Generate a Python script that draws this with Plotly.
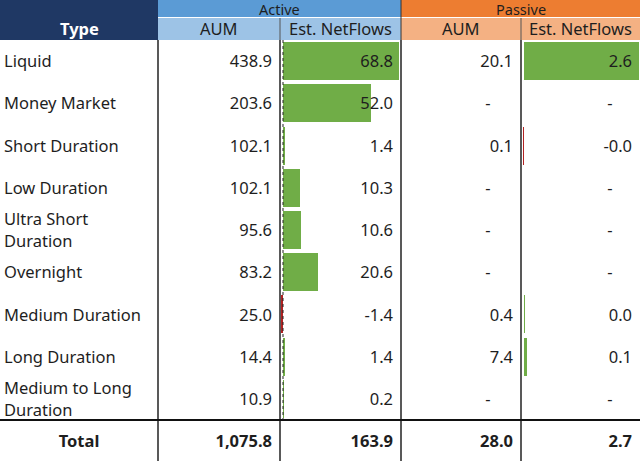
import plotly.graph_objects as go

# ---------------- data ----------------
types = ["Liquid", "Money Market", "Short Duration", "Low Duration",
         "Ultra Short<br>Duration", "Overnight", "Medium Duration",
         "Long Duration", "Medium to Long<br>Duration"]
active_aum = [438.9, 203.6, 102.1, 102.1, 95.6, 83.2, 25.0, 14.4, 10.9]
active_nf = [68.8, 52.0, 1.4, 10.3, 10.6, 20.6, -1.4, 1.4, 0.2]
passive_aum = [20.1, None, 0.1, None, None, None, 0.4, 7.4, None]
passive_nf = [2.6, None, -0.02, None, None, None, 0.02, 0.07, None]
group_labels = ["Active", "Passive"]
sub_labels = ["AUM", "Est. NetFlows", "AUM", "Est. NetFlows"]

# ---------------- layout constants ----------------
W, H = 640, 461
HEADER_H = 40
ROW_H = 380 / 9
COL_EDGES = [0, 158, 280, 401, 521, 640]
FONT = "Noto Sans"
TXT = "#1e1e1e"
NAVY = "#1F3864"
BLUE, LBLUE = "#5B9BD5", "#9DC3E6"
ORANGE, LORANGE = "#ED7D31", "#F4B183"
GREEN, RED = "#70AD47", "#B22222"
FS = 16.5
PAD = 8
TEXT_DY = 2 / ROW_H  # small downward nudge of cell text within its row

n = len(types)
rows = list(range(n))
y_top = -HEADER_H / ROW_H - 0.5
y_bot = (H - HEADER_H) / ROW_H - 0.5


def fmt(v):
    return f"{v:,.1f}"


def paper_y(px):
    return 1 - px / H


# data-bar axes: active zero at 283px, 68.8 reaches 399px; passive zero at 524px, 2.6 reaches 639px
a_zero, a_max_px = 283, 399
a_scale = max(active_nf) / (a_max_px - a_zero)
a_range = [(COL_EDGES[2] - a_zero) * a_scale, (COL_EDGES[3] - a_zero) * a_scale]
p_zero, p_max_px = 524, 639
p_vals = [v for v in passive_nf if v is not None]
p_scale = max(p_vals) / (p_max_px - p_zero)
p_range = [(COL_EDGES[4] - p_zero) * p_scale, (COL_EDGES[5] - p_zero) * p_scale]

fig = go.Figure()

# data bars
def bars(vals, axis):
    ys = [i for i, v in enumerate(vals) if v is not None]
    xs = [v for v in vals if v is not None]
    colors = [GREEN if v >= 0 else RED for v in xs]
    return go.Bar(x=xs, y=ys, orientation="h", xaxis=axis, yaxis="y",
                  marker=dict(color=colors, line=dict(width=0)), width=0.9,
                  hoverinfo="skip", showlegend=False)

fig.add_trace(bars(active_nf, "x2"))
fig.add_trace(bars(passive_nf, "x3"))

# text: type labels
fig.add_trace(go.Scatter(
    x=[COL_EDGES[0] + 4] * n, y=[r + TEXT_DY for r in rows], mode="text", text=types,
    textposition="middle right", textfont=dict(family=FONT, size=FS, color=TXT),
    hoverinfo="skip", showlegend=False, cliponaxis=False))

cols = [active_aum, active_nf, passive_aum, passive_nf]
# each column: (axis name, x of right text edge, x of dash)
col_axes = [
    ("x", COL_EDGES[2] - PAD, COL_EDGES[2] - 33),
    ("x2", a_range[1] - PAD * a_scale, a_range[1] - 33 * a_scale),
    ("x", COL_EDGES[4] - PAD, COL_EDGES[4] - 33),
    ("x3", p_range[1] - PAD * p_scale, p_range[1] - 30 * p_scale),
]
for vals, (ax, xr, xd) in zip(cols, col_axes):
    ys = [i + TEXT_DY for i, v in enumerate(vals) if v is not None]
    ts = [fmt(v) for v in vals if v is not None]
    fig.add_trace(go.Scatter(
        x=[xr] * len(ys), y=ys, mode="text", text=ts, xaxis=ax, yaxis="y",
        textposition="middle left", textfont=dict(family=FONT, size=FS, color=TXT),
        hoverinfo="skip", showlegend=False, cliponaxis=False))
    yd = [i + TEXT_DY for i, v in enumerate(vals) if v is None]
    if yd:
        fig.add_trace(go.Scatter(
            x=[xd] * len(yd), y=yd, mode="text", text=["-"] * len(yd), xaxis=ax, yaxis="y",
            textposition="middle center", textfont=dict(family=FONT, size=FS, color=TXT),
            hoverinfo="skip", showlegend=False, cliponaxis=False))
    tot = sum(v for v in vals if v is not None)
    fig.add_trace(go.Scatter(
        x=[xr], y=[n + TEXT_DY], mode="text", text=[f"<b>{fmt(tot)}</b>"], xaxis=ax, yaxis="y",
        textposition="middle left", textfont=dict(family=FONT, size=FS, color=TXT),
        hoverinfo="skip", showlegend=False, cliponaxis=False))

fig.add_trace(go.Scatter(
    x=[(COL_EDGES[0] + COL_EDGES[1]) / 2], y=[n + TEXT_DY], mode="text", text=["<b>Total</b>"],
    textposition="middle center", textfont=dict(family=FONT, size=FS, color=TXT),
    hoverinfo="skip", showlegend=False, cliponaxis=False))

shapes = []
# header backgrounds
def rect(x0, x1, y0, y1, color):
    shapes.append(dict(type="rect", xref="x", yref="paper", x0=x0, x1=x1,
                       y0=paper_y(y1), y1=paper_y(y0), fillcolor=color,
                       line=dict(width=0), layer="below"))

rect(COL_EDGES[0], COL_EDGES[1], 0, HEADER_H, NAVY)
rect(COL_EDGES[1], COL_EDGES[3], 0, 17, BLUE)
rect(COL_EDGES[3], COL_EDGES[5], 0, 17, ORANGE)
rect(COL_EDGES[1], COL_EDGES[3], 18, HEADER_H, LBLUE)
rect(COL_EDGES[3], COL_EDGES[5], 18, HEADER_H, LORANGE)

# header thin separators
shapes.append(dict(type="line", xref="x", yref="paper", x0=COL_EDGES[1], x1=COL_EDGES[5],
                   y0=paper_y(17.5), y1=paper_y(17.5), line=dict(color="white", width=1)))
for xe in [COL_EDGES[2], COL_EDGES[4]]:
    shapes.append(dict(type="line", xref="x", yref="paper", x0=xe, x1=xe,
                       y0=paper_y(18), y1=paper_y(HEADER_H), line=dict(color="#555", width=1)))

# body vertical borders
for xe in COL_EDGES[1:5]:
    shapes.append(dict(type="line", xref="x", yref="paper", x0=xe, x1=xe,
                       y0=0, y1=paper_y(HEADER_H), line=dict(color="#222", width=1.5)))
shapes.append(dict(type="line", xref="x", yref="paper", x0=COL_EDGES[3], x1=COL_EDGES[3],
                   y0=paper_y(0), y1=paper_y(HEADER_H), line=dict(color="#333", width=1)))
# total separator
shapes.append(dict(type="line", xref="x", yref="y", x0=0, x1=W, y0=n - 0.5, y1=n - 0.5,
                   line=dict(color="#111", width=2)))
# dashed axis of active data bars
shapes.append(dict(type="line", xref="x2", yref="y", x0=0, x1=0, y0=-0.5, y1=n - 0.5,
                   line=dict(color="#222", width=1, dash="dot")))

annotations = []
for lab, (x0, x1) in zip(group_labels, [(COL_EDGES[1], COL_EDGES[3]), (COL_EDGES[3], COL_EDGES[5])]):
    annotations.append(dict(x=(x0 + x1) / 2, y=paper_y(9.5), xref="x", yref="paper",
                            text=lab, showarrow=False, yanchor="middle", borderpad=0,
                            font=dict(family=FONT, size=14.5, color=TXT)))
annotations.append(dict(x=(COL_EDGES[0] + COL_EDGES[1]) / 2, y=paper_y(29), xref="x", yref="paper",
                        text="<b>Type</b>", showarrow=False, yanchor="middle",
                        font=dict(family=FONT, size=FS, color="white")))
for ci, lab in enumerate(sub_labels):
    annotations.append(dict(x=(COL_EDGES[ci + 1] + COL_EDGES[ci + 2]) / 2, y=paper_y(29),
                            xref="x", yref="paper", text=lab, showarrow=False, yanchor="middle",
                            font=dict(family=FONT, size=FS, color=TXT)))

fig.update_layout(
    width=W, height=H, margin=dict(l=0, r=0, t=0, b=0, autoexpand=False),
    paper_bgcolor="white", plot_bgcolor="rgba(0,0,0,0)",
    xaxis=dict(range=[0, W], domain=[0, 1], visible=False, fixedrange=True),
    xaxis2=dict(range=a_range, domain=[COL_EDGES[2] / W, COL_EDGES[3] / W],
                visible=False, anchor="y", fixedrange=True),
    xaxis3=dict(range=p_range, domain=[COL_EDGES[4] / W, COL_EDGES[5] / W],
                visible=False, anchor="y", fixedrange=True),
    yaxis=dict(range=[y_bot, y_top], domain=[0, 1], visible=False, fixedrange=True),
    shapes=shapes, annotations=annotations, bargap=0,
)

fig.write_html("out.html", config={"displayModeBar": False},
               post_script="document.body.style.margin='0';document.body.style.overflow='hidden';")
